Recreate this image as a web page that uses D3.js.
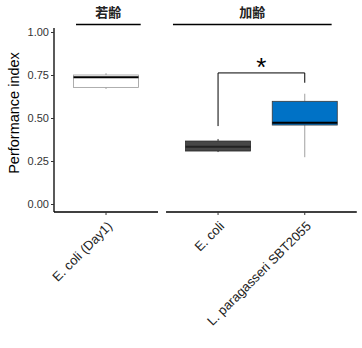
<!DOCTYPE html>
<html>
<head>
<meta charset="utf-8">
<script src="https://cdn.jsdelivr.net/npm/d3@7"></script>
<style>
  body { margin: 0; background: #fff; }
  text { font-family: "Liberation Sans", Arial, sans-serif; }
</style>
</head>
<body>
<div id="chart"></div>
<script>
// facet labels
const facets = ['若齢', '加齢'];
// categories per facet
const facetCats = [['young'], ['old_ecoli', 'old_lp']];
// x tick labels
const xLabels = { young: 'E. coli (Day1)', old_ecoli: 'E. coli', old_lp: 'L. paragasseri SBT2055' };
// box stats: [min, q1, median, q3, max]
const boxStats = {
    young: [0.669, 0.678, 0.737, 0.750, 0.760],
    old_ecoli: [0.302, 0.308, 0.333, 0.366, 0.378],
    old_lp: [0.272, 0.459, 0.473, 0.597, 0.641]
};
const boxFill = { young: '#ffffff', old_ecoli: '#474747', old_lp: '#0072c6' };
const boxStroke = { young: '#9a9a9a', old_ecoli: '#2a2a2a', old_lp: '#3a3a3a' };
const whiskerColor = { young: '#9a9a9a', old_ecoli: '#333333', old_lp: '#a0a0a0' };
const yTicks = [0, 0.25, 0.5, 0.75, 1.0];
// significance bracket: [left end, bar level, right end]
const sigBracket = [0.453, 0.762, 0.705];

const width = 362, height = 348;
const marginLeft = 54;
const panelGap = 8;
const unit = 86.7; // pixels per discrete unit

const svg = d3.select('#chart').append('svg')
    .attr('width', width)
    .attr('height', height);

const y = d3.scaleLinear().domain([0, 1]).range([204, 32]);
const axisY = 212;

// panel scales (discrete positions 1..n with 0.6 expansion)
const panels = [];
let x0 = marginLeft;
facetCats.forEach(cats => {
    const w = (cats.length + 0.2) * unit;
    const sc = d3.scaleLinear().domain([0.4, cats.length + 0.6]).range([x0, x0 + w]);
    panels.push({ cats, sc, x0, x1: x0 + w });
    x0 += w + panelGap;
});

// Y axis
const yAxis = svg.append('g')
    .attr('transform', 'translate(' + marginLeft + ',0)')
    .call(d3.axisLeft(y).tickValues(yTicks).tickFormat(d3.format('.2f')).tickSize(3).tickPadding(2));
yAxis.select('.domain').attr('d', 'M0,28V' + axisY).attr('stroke', '#000').attr('stroke-width', 1.3);
yAxis.selectAll('.tick line').attr('stroke', '#333');
yAxis.selectAll('.tick text').attr('font-size', 11).attr('fill', '#333')
    .style('font-family', '"Liberation Sans", Arial, sans-serif');

svg.append('text')
    .attr('transform', 'translate(19,' + (y(0.5) - 5) + ') rotate(-90)')
    .attr('text-anchor', 'middle')
    .attr('font-size', 14.5)
    .attr('fill', '#000')
    .text('Performance index');

// strip segments (unit coords)
const stripSegs = [[0.654, 1.40], [0.48, 2.31]];

panels.forEach((p, i) => {
    // x axis line
    svg.append('line')
        .attr('x1', p.x0).attr('x2', p.x1)
        .attr('y1', axisY).attr('y2', axisY)
        .attr('stroke', '#000').attr('stroke-width', 1.3);

    // strip label + line
    const mid = (p.sc(stripSegs[i][0]) + p.sc(stripSegs[i][1])) / 2;
    svg.append('text')
        .attr('x', mid).attr('y', 17)
        .attr('text-anchor', 'middle')
        .attr('font-size', 13)
        .attr('font-weight', 'bold')
        .attr('fill', '#222')
        .style('font-family', '"Noto Sans CJK JP", sans-serif')
        .text(facets[i]);
    svg.append('line')
        .attr('x1', p.sc(stripSegs[i][0])).attr('x2', p.sc(stripSegs[i][1]))
        .attr('y1', 24.5).attr('y2', 24.5)
        .attr('stroke', '#000').attr('stroke-width', 1.3);

    p.cats.forEach((c, j) => {
        const cx = p.sc(j + 1);
        const s = boxStats[c];
        const hw = 0.375 * unit;
        // tick
        svg.append('line')
            .attr('x1', cx).attr('x2', cx)
            .attr('y1', axisY).attr('y2', axisY + 3)
            .attr('stroke', '#333');
        // whiskers
        svg.append('line')
            .attr('x1', cx).attr('x2', cx)
            .attr('y1', y(s[4])).attr('y2', y(s[3]))
            .attr('stroke', whiskerColor[c]);
        svg.append('line')
            .attr('x1', cx).attr('x2', cx)
            .attr('y1', y(s[1])).attr('y2', y(s[0]))
            .attr('stroke', whiskerColor[c]);
        // box
        svg.append('rect')
            .attr('x', cx - hw).attr('width', 2 * hw)
            .attr('y', y(s[3])).attr('height', y(s[1]) - y(s[3]))
            .attr('fill', boxFill[c])
            .attr('stroke', boxStroke[c]).attr('stroke-width', 0.8);
        // median
        svg.append('line')
            .attr('x1', cx - hw).attr('x2', cx + hw)
            .attr('y1', y(s[2])).attr('y2', y(s[2]))
            .attr('stroke', c === 'old_ecoli' ? '#222' : '#000').attr('stroke-width', 2);

        // x label
        svg.append('text')
            .attr('transform', 'translate(' + (cx + 7) + ',' + (axisY + 15) + ') rotate(-45)')
            .attr('text-anchor', 'end')
            .attr('font-size', 13)
            .attr('fill', '#222')
            .text(xLabels[c]);
    });
});

// significance bracket
const bx1 = panels[1].sc(1), bx2 = panels[1].sc(2);
svg.append('path')
    .attr('d', 'M' + bx1 + ',' + y(sigBracket[0]) + 'V' + y(sigBracket[1]) +
        'H' + bx2 + 'V' + y(sigBracket[2]))
    .attr('fill', 'none')
    .attr('stroke', '#000')
    .attr('stroke-width', 1);
svg.append('text')
    .attr('x', (bx1 + bx2) / 2).attr('y', y(sigBracket[1]) + 3)
    .attr('text-anchor', 'middle')
    .attr('font-size', 26)
    .attr('fill', '#000')
    .text('*');
</script>
</body>
</html>
